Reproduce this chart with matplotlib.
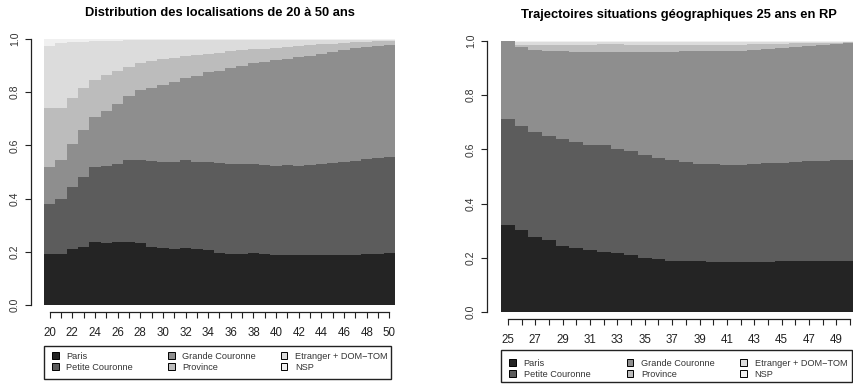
import numpy as np
import matplotlib.pyplot as plt
from matplotlib.patches import Rectangle

plt.rcParams['font.family'] = ['Liberation Sans', 'DejaVu Sans']

states = ["Paris", "Petite Couronne", "Grande Couronne", "Province",
          "Etranger + DOM\u2212TOM", "NSP"]
state_colors = ["#242424", "#5c5c5c", "#8e8e8e", "#bcbcbc", "#dcdcdc", "#f0f0f0"]

# Left chart: ages 20..50, cumulative upper boundary of each state
ages_left = list(range(20, 51))
left_paris = [0.192, 0.192, 0.210, 0.217, 0.238, 0.232, 0.238, 0.235, 0.232, 0.217,
              0.213, 0.211, 0.213, 0.210, 0.205, 0.197, 0.192, 0.192, 0.194, 0.192,
              0.188, 0.188, 0.188, 0.188, 0.188, 0.188, 0.188, 0.188, 0.190, 0.192, 0.194]
left_petite = [0.378, 0.400, 0.444, 0.480, 0.517, 0.521, 0.531, 0.545, 0.546, 0.541,
               0.537, 0.538, 0.545, 0.538, 0.538, 0.533, 0.531, 0.531, 0.531, 0.528,
               0.524, 0.526, 0.524, 0.528, 0.531, 0.533, 0.538, 0.542, 0.547, 0.551, 0.555]
left_grande = [0.517, 0.546, 0.606, 0.659, 0.705, 0.730, 0.757, 0.787, 0.808, 0.817,
               0.828, 0.838, 0.852, 0.862, 0.875, 0.881, 0.890, 0.900, 0.911, 0.915,
               0.921, 0.925, 0.931, 0.937, 0.942, 0.950, 0.959, 0.965, 0.969, 0.972, 0.976]
left_province = [0.739, 0.739, 0.777, 0.817, 0.847, 0.864, 0.878, 0.895, 0.910, 0.916,
                 0.925, 0.930, 0.937, 0.941, 0.944, 0.947, 0.954, 0.959, 0.961, 0.964,
                 0.966, 0.969, 0.972, 0.976, 0.980, 0.982, 0.986, 0.989, 0.990, 0.991, 0.994]
left_etranger = [0.975, 0.985, 0.987, 0.990, 0.992, 0.993, 0.994, 0.995, 0.996, 0.996,
                 0.996, 0.997, 0.997, 0.997, 0.997, 0.997, 0.997, 0.997, 0.998, 0.998,
                 0.998, 0.998, 0.998, 0.998, 0.998, 0.998, 0.998, 0.998, 0.998, 0.998, 0.998]
left_nsp = [1.0] * 31

# Right chart: ages 25..50
ages_right = list(range(25, 51))
right_paris = [0.321, 0.303, 0.275, 0.264, 0.245, 0.237, 0.229, 0.223, 0.217, 0.209,
               0.199, 0.194, 0.190, 0.189, 0.188, 0.185, 0.184, 0.184, 0.185, 0.185,
               0.187, 0.188, 0.188, 0.189, 0.190, 0.190]
right_petite = [0.714, 0.686, 0.665, 0.650, 0.637, 0.627, 0.618, 0.615, 0.601, 0.594,
                0.578, 0.569, 0.560, 0.552, 0.546, 0.546, 0.541, 0.542, 0.545, 0.548,
                0.550, 0.552, 0.556, 0.558, 0.560, 0.560]
right_grande = [1.000, 0.978, 0.966, 0.963, 0.962, 0.960, 0.958, 0.960, 0.960, 0.958,
                0.958, 0.960, 0.961, 0.962, 0.963, 0.963, 0.964, 0.963, 0.966, 0.969,
                0.973, 0.977, 0.980, 0.984, 0.988, 0.991]
right_province = [1.000, 0.985, 0.986, 0.987, 0.987, 0.987, 0.987, 0.988, 0.988, 0.987,
                  0.987, 0.987, 0.987, 0.987, 0.987, 0.986, 0.986, 0.987, 0.988, 0.989,
                  0.990, 0.991, 0.992, 0.993, 0.994, 0.995]
right_etranger = [1.000, 0.996, 0.997, 0.997, 0.997, 0.997, 0.997, 0.997, 0.997, 0.997,
                  0.997, 0.997, 0.997, 0.997, 0.997, 0.997, 0.997, 0.997, 0.997, 0.998,
                  0.998, 0.998, 0.998, 0.998, 0.998, 0.998]
right_nsp = [1.0] * 26

W, H = 854, 385
fig = plt.figure(figsize=(W / 100, H / 100), dpi=100)


def fx(px):
    return px / W


def fy(py):
    return 1 - py / H


def draw_legend(box, rows_y):
    # box = (x0, y0, x1, y1) in pixels from top-left
    x0, y0, x1, y1 = box
    fig.add_artist(Rectangle((fx(x0), fy(y1)), fx(x1) - fx(x0), fy(y0) - fy(y1),
                             transform=fig.transFigure, fill=False,
                             edgecolor='#222222', linewidth=1.0))
    col_x = [x0 + 0.033 * (x1 - x0), x0 + 0.367 * (x1 - x0), x0 + 0.691 * (x1 - x0)]
    sq = 6.5
    for i, (lab, col) in enumerate(zip(states, state_colors)):
        cx = col_x[i // 2]
        cy = rows_y[i % 2]
        fig.add_artist(Rectangle((fx(cx - sq / 2), fy(cy + sq / 2)), sq / W, sq / H,
                                 transform=fig.transFigure, facecolor=col,
                                 edgecolor='black', linewidth=0.7))
        fig.text(fx(cx + 11), fy(cy), lab, fontsize=6.6, color='#333333',
                 ha='left', va='center_baseline')


def draw_panel(rect, ages, tops, title, label_start, left_out, bottom_out):
    ax = fig.add_axes(rect)
    x = np.arange(len(ages))
    bottom = np.zeros(len(ages))
    for top, col in zip(tops, state_colors):
        top = np.array(top)
        ax.bar(x, top - bottom, bottom=bottom, width=1.0, color=col,
               edgecolor='none', linewidth=0)
        bottom = top
    ax.set_xlim(-0.5, len(ages) - 0.5)
    ax.set_ylim(0, 1)
    for s in ['top', 'right']:
        ax.spines[s].set_visible(False)
    ax.spines['left'].set_position(('outward', left_out))
    ax.spines['bottom'].set_position(('outward', bottom_out))
    ax.spines['left'].set_bounds(0, 1)
    ax.spines['bottom'].set_bounds(0, len(ages) - 1)
    for s in ['left', 'bottom']:
        ax.spines[s].set_linewidth(0.9)
        ax.spines[s].set_color('#222222')
    ax.set_yticks([0, 0.2, 0.4, 0.6, 0.8, 1.0])
    ax.set_yticklabels(['0.0', '0.2', '0.4', '0.6', '0.8', '1.0'],
                       rotation=90, va='center', fontsize=7.5, color='#333333')
    ax.set_xticks(x)
    ax.set_xticklabels([str(a) if (a - label_start) % 2 == 0 else '' for a in ages],
                       fontsize=8.3, color='#222222')
    ax.tick_params(axis='both', length=4, width=0.8, color='#222222')
    ax.tick_params(axis='x', pad=7)
    ax.tick_params(axis='y', pad=4)
    ax.set_title(title, fontsize=9.3, fontweight='bold', pad=16.5)
    return ax


draw_panel([fx(44), fy(305), 351 / W, 266 / H], ages_left,
           [left_paris, left_petite, left_grande, left_province, left_etranger, left_nsp],
           "Distribution des localisations de 20 \u00e0 50 ans", 20, 9.4, 5)
draw_legend((44, 346, 391, 379), (355.5, 366.5))

draw_panel([fx(501), fy(312), 356 / W, 271 / H], ages_right,
           [right_paris, right_petite, right_grande, right_province, right_etranger, right_nsp],
           "Trajectoires situations g\u00e9ographiques 25 ans en RP", 25, 10, 5)
draw_legend((501, 350, 852, 382), (362.5, 373.5))

fig.savefig('out.png', dpi=100)
